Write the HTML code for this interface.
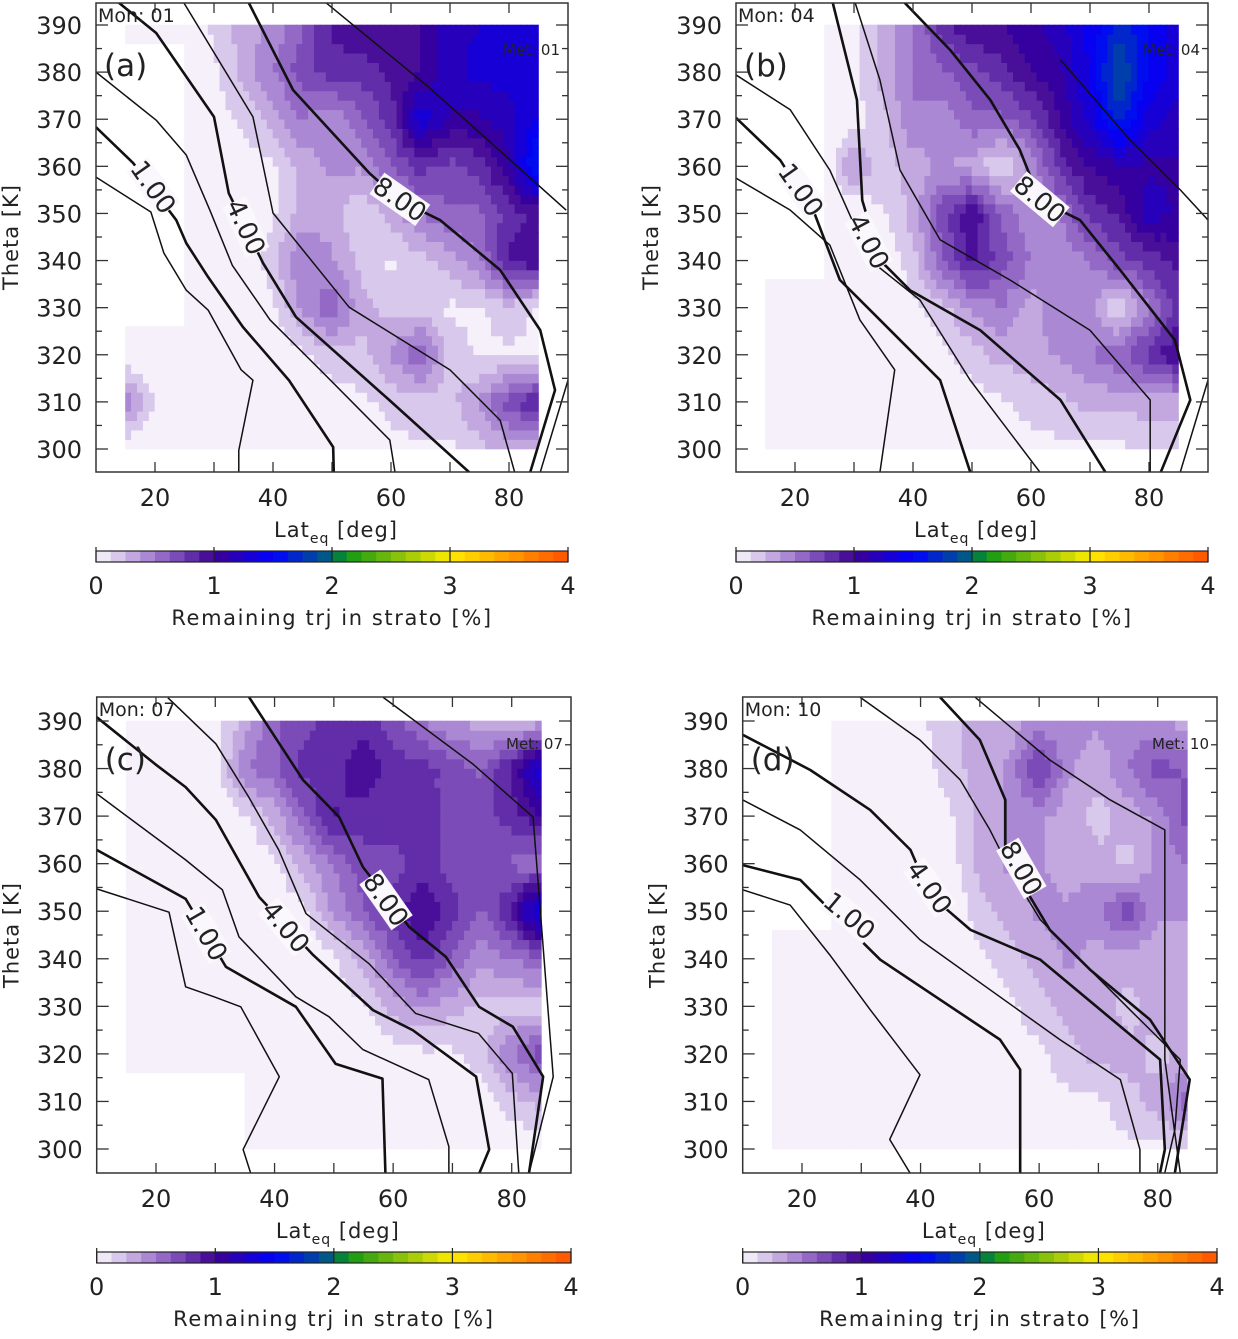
<!DOCTYPE html>
<html><head><meta charset="utf-8"><style>
body{margin:0;background:#fff}
svg text{font-family:"DejaVu Sans","Liberation Sans",sans-serif;fill:#222}
</style></head><body>
<svg id="s" width="1238" height="1334" viewBox="0 0 1238 1334" xmlns="http://www.w3.org/2000/svg"></svg>
<script>
const lats=[15,20,25,30,35,40,45,50,55,60,65,70,75,80,85];
const thetas=[390,380,370,360,350,340,330,320,310,300];
const latTicks=[20,40,60,80];
const thetaTicks=[300,310,320,330,340,350,360,370,380,390];
const cbTicks=[0,1,2,3,4];
const N=null;
const valsA=[
[0,0,0.05,0.15,0.3,0.4,0.6,0.9,1.0,1.0,1.0,1.2,1.25,1.3,1.3],
[N,N,0,0.1,0.3,0.5,0.7,0.8,0.8,0.9,1.0,1.2,1.3,1.3,1.3],
[N,N,0,0.05,0.15,0.3,0.5,0.4,0.6,0.8,1.35,1.1,1.1,1.2,1.4],
[N,N,0,0,0.05,0.1,0.3,0.4,0.4,0.6,0.8,0.7,0.8,1.1,1.7],
[N,N,0,0,0,0.1,0.3,0.3,0.1,0.3,0.5,0.6,0.6,0.8,0.9],
[N,N,0,0,0,0.2,0.5,0.4,0.2,0.1,0.2,0.3,0.5,0.9,1.0],
[N,N,0,0,0,0.1,0.4,0.6,0.3,0.2,0.2,0.1,0.1,0.2,0.1],
[0,0,0,0,0,0,0.1,0.2,0.2,0.4,0.6,0.2,0.1,0.1,0.1],
[0.5,0.1,0,0,0,0,0,0.05,0.1,0.15,0.2,0.2,0.4,0.7,0.9],
[0,0,0,0,0,0,0,0.05,0.05,0.1,0.1,0.1,0.2,0.3,0.3]];
const valsB=[
[N,N,0,0.1,0.3,0.5,0.8,1.0,1.0,1.1,1.2,1.4,1.7,1.5,1.3],
[N,N,0,0.1,0.3,0.5,0.6,0.7,0.8,1.0,1.1,1.4,1.9,1.5,1.3],
[N,N,0,0.05,0.2,0.5,0.4,0.6,0.6,0.7,1.0,1.3,1.7,1.3,1.2],
[N,N,0,0.4,0.2,0.3,0.4,0.3,0.1,0.4,0.8,1.0,1.1,1.1,1.1],
[N,N,0,0,0.1,0.3,0.7,1.0,0.6,0.4,0.5,0.8,0.9,1.2,1.1],
[N,N,0,0,0,0.2,0.6,0.9,0.7,0.5,0.4,0.5,0.7,0.8,0.9],
[0,0,0,0,0,0.1,0.2,0.4,0.5,0.3,0.5,0.4,0.1,0.5,0.8],
[0,0,0,0,0,0,0.1,0.2,0.3,0.3,0.4,0.5,0.6,0.8,1.0],
[0,0,0,0,0,0,0,0.05,0.1,0.2,0.2,0.3,0.3,0.3,0.3],
[0,0,0,0,0,0,0,0.05,0.05,0.05,0.1,0.1,0.1,0.15,0.15]];
const valsC=[
[0,0,0,0.05,0.3,0.6,0.7,0.8,0.8,0.7,0.5,0.4,0.3,0.2,0.3],
[0,0,0,0.05,0.5,0.6,0.8,0.8,1.0,0.8,0.8,0.7,0.6,0.9,1.4],
[0,0,0,0,0.1,0.3,0.6,0.9,0.8,0.8,0.8,0.7,0.7,0.8,1.0],
[0,0,0,0,0,0.1,0.3,0.5,0.7,0.7,0.8,0.7,0.7,0.6,0.5],
[0,0,0,0,0,0,0.1,0.4,0.6,0.8,1.0,0.8,0.6,0.9,1.5],
[0,0,0,0,0,0,0,0.1,0.3,0.6,0.8,0.6,0.4,0.5,0.6],
[0,0,0,0,0,0,0,0.05,0.1,0.3,0.4,0.3,0.2,0.2,0.2],
[0,0,0,0,0,0,0,0,0,0.05,0.1,0.1,0.2,0.5,0.7],
[N,N,N,N,0,0,0,0,0,0,0,0,0.05,0.2,0.3],
[N,N,N,N,0,0,0,0,0,0,0,0,0,0,0]];
const valsD=[
[N,N,0,0,0,0.1,0.2,0.3,0.3,0.4,0.4,0.4,0.4,0.4,0.3],
[N,N,0,0,0,0.05,0.2,0.3,0.4,0.8,0.4,0.3,0.5,0.7,0.6],
[N,N,0,0,0,0,0.1,0.3,0.4,0.4,0.3,0.2,0.3,0.4,0.7],
[N,N,0,0,0,0,0.05,0.3,0.4,0.4,0.3,0.3,0.2,0.4,0.5],
[N,N,0,0,0,0,0,0.2,0.3,0.4,0.4,0.5,0.7,0.4,0.4],
[0,0,0,0,0,0,0,0.1,0.2,0.3,0.4,0.3,0.3,0.3,0.3],
[0,0,0,0,0,0,0,0,0.1,0.2,0.3,0.3,0.2,0.3,0.3],
[0,0,0,0,0,0,0,0,0.05,0.1,0.2,0.3,0.3,0.2,0.3],
[0,0,0,0,0,0,0,0,0,0.05,0.1,0.1,0.2,0.3,0.6],
[0,0,0,0,0,0,0,0,0,0,0.05,0.05,0.1,0.1,0.1]];
// contour lines [lat,theta]; thick = labelled
const linesA=[
[[10,357.7],[19.3,350.3],[21.5,341.6],[25.3,333.7],[29,329.5],[34.6,316.8],[36.6,314.6],[34.2,299.7],[34.2,294.9]],
[[10,368.3],[16.3,360.7],[23.6,348.6],[25.3,343.7],[29,336.5],[34.9,325.9],[42.7,314.6],[50.2,300.4],[50.3,294.9]],
[[10,380],[20.2,369.8],[25.3,362.4],[29.3,350.7],[33.1,339],[39.5,327.4],[48,316.8],[59.8,301.9],[60.7,294.9]],
[[13.9,394.7],[20.2,388.3],[30,370.5],[32.5,354.3],[38.3,339.5],[43.9,328],[59.7,310.4],[73.4,294.9]],
[[24.9,394.7],[36.6,370.5],[40,350.1],[52.9,330.1],[70,316.8],[78.5,306.1],[81,294.9]],
[[35.9,394.7],[43.4,376.2],[56.3,358.6],[61.5,352.8],[68.3,348.6],[78.5,338],[85.3,325.2],[87.8,312.5],[83.6,295.1]],
[[49,394.7],[66.4,376.8],[89.7,350.7]],
[[90,314.6],[85.3,295.1]]];
const linesB=[
[[10,357.5],[19.2,350.7],[25.9,343.3],[31,327.4],[36.9,316.8],[34.4,295.1]],
[[10,370.3],[17.5,361.3],[23.4,349.7],[27.6,335.9],[34.4,327.4],[44.6,314.6],[49.7,295.1]],
[[10,379.4],[19.2,372],[25.9,359.2],[32.7,340.1],[41.2,331.6],[49.7,314.6],[61.5,295.1]],
[[26.4,394.7],[30.5,374.1],[31.4,352.8],[34.4,340.1],[39.5,333.7],[51.4,325.2],[65,310.4],[72.6,295.1]],
[[30.2,394.7],[34.4,378.3],[37.8,359.2],[44.6,344.4],[56.4,335.9],[70,325.2],[80.2,310.4],[80.2,295.1]],
[[38.6,394.7],[46.3,384.7],[53.1,374.1],[58.1,363.5],[61.5,352.8],[68.3,348.6],[75.1,338],[84.4,323.1],[87,310.4],[82,295.1]],
[[65,382.6],[76.8,365.6],[85.3,355],[90,348.6]],
[[90,314.6],[85.3,295.1]]];
const linesC=[
[[10,354.7],[22.2,349.8],[25,334.1],[29.8,332],[34.3,329.9],[40.8,315.2],[34.7,299.9],[36,294.8]],
[[10,362.9],[25,352.6],[31.8,338.3],[43.6,329.9],[50.3,317.9],[58.2,314.8],[58.7,294.8]],
[[10,374.7],[25,360.8],[31.2,354.5],[34,344.6],[43.6,332],[49.2,327.8],[54.9,320.9],[66,314.6],[69.4,300.5],[69.4,294.8]],
[[10,390.8],[19.9,380.9],[25,376.1],[30.1,369.2],[37.4,353],[46.5,340.8],[56.6,329.2],[63.3,325],[74,315.2],[76.2,299.9],[74.5,294.8]],
[[22,394.9],[30.1,385.2],[35.6,374.1],[40.7,362.9],[45.3,349.5],[55.9,339],[63.8,328.5],[74.4,324.3],[80.1,315.9],[81.2,294.8]],
[[35.7,395],[44.8,377.6],[50.9,369.8],[54.9,359.3],[62.7,346.7],[68.9,340.4],[74.5,329.9],[80.2,325.7],[85.3,315.2],[82.9,294.8]],
[[58.3,395],[73.5,380.9],[83.6,369.8],[87,315.2],[82.9,294.8]]];
const linesD=[
[[10,354.5],[18,351.3],[24.7,340.8],[31.5,329.3],[39.9,315.6],[34.8,302],[38.2,295]],
[[10,359.7],[19.7,356.6],[26.4,348.2],[33.2,339.8],[43.3,331.4],[53.4,323],[56.8,316.7],[56.8,295]],
[[10,373.4],[19.7,367.1],[29.8,356.6],[39.9,344],[51.7,333.5],[63.5,323],[73.7,314.6],[77,299.9],[77,295]],
[[10,387.1],[21.4,379.7],[31.5,371.3],[38.3,362.9],[41.6,353.4],[48.4,346.1],[60.2,339.8],[70.3,329.3],[80.4,318.8],[81.2,299.9],[80.4,295]],
[[29.8,395],[39.9,386],[46.7,377.6],[51.7,367.1],[55.1,358.7],[60.2,348.2],[66.9,339.8],[75.3,329.3],[83.8,318.8],[82.9,304.1],[81.2,295]],
[[43.3,395],[50,386],[54.3,373.4],[54.3,360.8],[58,354],[61.8,346.1],[68.6,337.7],[78.7,327.2],[85.4,314.6],[82.9,295]],
[[49.2,395],[61.8,381.8],[72,373.4],[81.2,367.1],[81.2,318.8],[83.8,295]]];
const thickIdx=[1,3,5];
const labelsA=[["1.00",19.7,355.6,55],["4.00",35.4,347.1,65],["8.00",61.5,353,35]];
const labelsB=[["1.00",21,355,55],["4.00",32.5,344,62],["8.00",61.5,353,40]];
const labelsC=[["1.00",28.5,345.3,60],["4.00",41.9,346.7,50],["8.00",58.8,352.4,55]];
const labelsD=[["1.00",28,349,40],["4.00",41.5,355,55],["8.00",57,359,60]];

const panels=[
 {id:'a',mon:'01',vals:valsA,lines:linesA,labels:labelsA,x10:96,x90:568,y390:25,y300:449,top:3,bot:472,cbY:551},
 {id:'b',mon:'04',vals:valsB,lines:linesB,labels:labelsB,x10:736,x90:1208,y390:25,y300:449,top:3,bot:472,cbY:551},
 {id:'c',mon:'07',vals:valsC,lines:linesC,labels:labelsC,x10:96.7,x90:571,y390:721,y300:1149,top:697,bot:1173,cbY:1252},
 {id:'d',mon:'10',vals:valsD,lines:linesD,labels:labelsD,x10:742.7,x90:1217,y390:721,y300:1149,top:697,bot:1173,cbY:1252}];

const stops=[[0,[250,248,253]],[0.5,[160,120,205]],[1,[60,0,145]],[1.5,[0,0,255]],[2,[0,100,120]],[2.1,[10,150,20]],[3,[255,235,0]],[4,[255,80,0]]];
function cmap(v){v=Math.max(0,Math.min(4,v));for(let i=1;i<stops.length;i++){if(v<=stops[i][0]){const a=stops[i-1],b=stops[i],t=(v-a[0])/(b[0]-a[0]);const c=a[1].map((x,k)=>Math.round(x+(b[1][k]-x)*t));return `rgb(${c})`;}}return 'rgb(255,80,0)';}
const S=document.getElementById('s');const NS='http://www.w3.org/2000/svg';
function el(t,a,p){const e=document.createElementNS(NS,t);for(const k in a)e.setAttribute(k,a[k]);(p||S).appendChild(e);return e;}

panels.forEach(P=>{
 const X=l=>P.x10+(l-10)*(P.x90-P.x10)/80;
 const Y=t=>P.y390+(390-t)*(P.y300-P.y390)/90;
 const g=el('g',{});
 
 
 const hm=el('g',{},g);
 
 
 const nearest=(l,t)=>{const i=Math.round((390-t)/10),j=Math.floor((l-15)/5);return P.vals[Math.max(0,Math.min(9,i))][Math.max(0,Math.min(14,j))];};
 const val=(i,j)=>{const v=P.vals[i][j];return v===null?0:v;};
 const dl=1,dt=2;
 for(let l=15;l<85;l+=dl){for(let t=300;t<390;t+=dt){
  const lc=l+dl/2,tc=t+dt/2;
  if(nearest(lc,tc)===null)continue;
  const fj=(lc-15)/5,fi=(390-tc)/10;const j0=Math.min(13,Math.floor(fj)),i0=Math.min(8,Math.floor(fi));const u=fj-j0,w=fi-i0;
  let v=val(i0,j0)*(1-u)*(1-w)+val(i0,j0+1)*u*(1-w)+val(i0+1,j0)*(1-u)*w+val(i0+1,j0+1)*u*w;
  v=Math.floor(v*8)/8+0.0625; if(v<0.1)v=0.03;
  const r=el('rect',{x:X(l)-0.3,y:Y(t+dt)-0.3,width:X(l+dl)-X(l)+0.6,height:Y(t)-Y(t+dt)+0.6,fill:cmap(v)},hm);
  
  
 }}
 const cp=el('clipPath',{id:'clip'+P.id},g);el('rect',{x:P.x10,y:P.top,width:P.x90-P.x10,height:P.bot-P.top},cp);
 const lg=el('g',{'clip-path':`url(#clip${P.id})`},g);
 P.lines.forEach((ln,k)=>{
  const p=el('polyline',{points:ln.map(q=>X(q[0])+','+Y(q[1])).join(' '),fill:'none',stroke:'#111','stroke-width':thickIdx.includes(k)?2.6:1.5,'stroke-linejoin':'round'},lg);
  
  
 });
 P.labels.forEach(L=>{
  const x=X(L[1]),y=Y(L[2]);
  const gg=el('g',{transform:`translate(${x},${y}) rotate(${L[3]})`},g);
  el('rect',{x:-28,y:-13,width:56,height:26,fill:cmap(0)},gg);
  const t=el('text',{x:0,y:9,'text-anchor':'middle','font-size':26},gg);t.textContent=L[0];
  
  
 });
 const fr=el('rect',{x:P.x10,y:P.top,width:P.x90-P.x10,height:P.bot-P.top,fill:'none',stroke:'#333','stroke-width':1.5},g);
 
 
 for(let l=20;l<=80;l+=10){el('line',{x1:X(l),x2:X(l),y1:P.bot,y2:P.bot-10,stroke:'#333','stroke-width':1.3},g);el('line',{x1:X(l),x2:X(l),y1:P.top,y2:P.top+10,stroke:'#333','stroke-width':1.3},g);}
 for(let t=300;t<=390;t+=5){const len=t%10?6:12;el('line',{x1:P.x10,x2:P.x10+len,y1:Y(t),y2:Y(t),stroke:'#333','stroke-width':1.3},g);el('line',{x1:P.x90,x2:P.x90-len,y1:Y(t),y2:Y(t),stroke:'#333','stroke-width':1.3},g);}
 latTicks.forEach(l=>{const t=el('text',{x:X(l),y:P.bot+34,'text-anchor':'middle','font-size':24},g);t.textContent=l;});
 thetaTicks.forEach(th=>{const t=el('text',{x:P.x10-14,y:Y(th)+9,'text-anchor':'end','font-size':24},g);t.textContent=th;});
 const yt=el('text',{x:0,y:0,transform:`translate(${P.x10-78},${(Y(390)+Y(300))/2}) rotate(-90)`,'text-anchor':'middle','font-size':21,'letter-spacing':1},g);yt.textContent='Theta [K]';
 
 const xt=el('text',{x:(P.x10+P.x90)/2+4,y:P.bot+65,'text-anchor':'middle','font-size':21,'letter-spacing':1},g);xt.innerHTML='Lat<tspan font-size="14" dy="6">eq</tspan><tspan dy="-6"> [deg]</tspan>';
 
 const mt=el('text',{x:P.x10+2,y:P.top+19,'font-size':19},g);mt.textContent='Mon: '+P.mon;
 const pl=el('text',{x:P.x10+8,y:P.top+73,'font-size':31},g);pl.textContent='('+P.id+')';
 const me=el('text',{x:P.x90-8,y:P.top+52,'text-anchor':'end','font-size':15},g);me.textContent='Met: '+P.mon;
 const cb=el('g',{},g);
 const cx=v=>P.x10+v*(P.x90-P.x10)/4;const n=32;
 for(let i=0;i<n;i++){const v=(i+0.5)*4/n;el('rect',{x:cx(i*4/n),y:P.cbY,width:cx(4/n)-cx(0)+0.5,height:11,fill:cmap(v)},cb);}
 el('rect',{x:P.x10,y:P.cbY,width:P.x90-P.x10,height:11,fill:'none',stroke:'#222','stroke-width':1.2},cb);
 cbTicks.forEach(v=>{el('line',{x1:cx(v),x2:cx(v),y1:P.cbY-4,y2:P.cbY+11,stroke:'#222','stroke-width':1.2},cb);const t=el('text',{x:cx(v),y:P.cbY+43,'text-anchor':'middle','font-size':24},cb);t.textContent=v;});
 const ct=el('text',{x:(P.x10+P.x90)/2,y:P.cbY+74,'text-anchor':'middle','font-size':21,'letter-spacing':1.6,'xml:space':'preserve'},cb);ct.textContent='Remaining trj in  strato [%]';
 
});
</script>
</body></html>
